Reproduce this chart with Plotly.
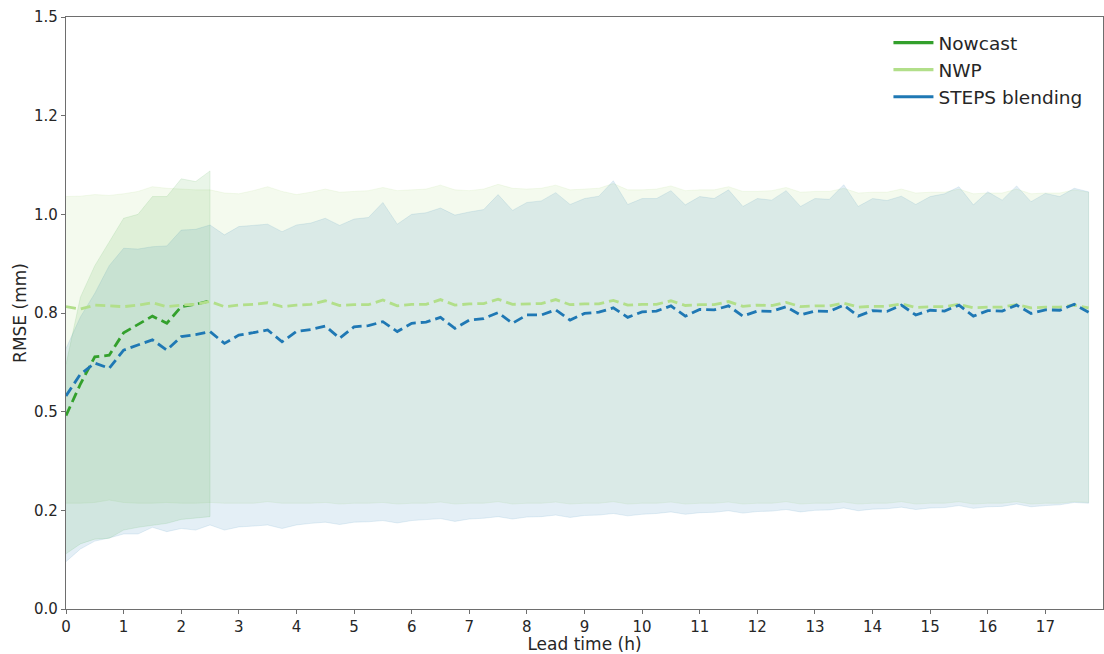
import numpy as np
import plotly.graph_objects as go

# Lead times (hours), 15-minute steps
lead_time_h = np.arange(72) * 0.25
nowcast_time_h = lead_time_h[:11]

# Mean RMSE (mm)
nowcast_mean = [0.490, 0.570, 0.639, 0.643, 0.700, 0.722, 0.742, 0.724, 0.766, 0.772, 0.781]

nwp_mean = [
    0.766, 0.760, 0.770, 0.768,
    0.766, 0.770, 0.776, 0.766,
    0.770, 0.772, 0.779, 0.766,
    0.770, 0.772, 0.776, 0.766,
    0.770, 0.772, 0.781, 0.769,
    0.771, 0.771, 0.783, 0.768,
    0.772, 0.772, 0.784, 0.770,
    0.773, 0.774, 0.785, 0.772,
    0.773, 0.774, 0.784, 0.771,
    0.773, 0.773, 0.782, 0.770,
    0.772, 0.772, 0.781, 0.769,
    0.771, 0.771, 0.779, 0.767,
    0.770, 0.769, 0.777, 0.766,
    0.768, 0.768, 0.775, 0.765,
    0.767, 0.767, 0.773, 0.764,
    0.766, 0.766, 0.772, 0.763,
    0.765, 0.765, 0.771, 0.763,
    0.765, 0.765, 0.770, 0.763,
]

steps_mean = [
    0.540, 0.595, 0.623, 0.610,
    0.656, 0.668, 0.682, 0.656,
    0.690, 0.695, 0.703, 0.673,
    0.694, 0.700, 0.707, 0.677,
    0.703, 0.708, 0.717, 0.686,
    0.715, 0.718, 0.728, 0.703,
    0.724, 0.727, 0.739, 0.711,
    0.732, 0.736, 0.751, 0.724,
    0.745, 0.745, 0.758, 0.732,
    0.749, 0.752, 0.763, 0.739,
    0.753, 0.755, 0.768, 0.742,
    0.759, 0.758, 0.768, 0.742,
    0.755, 0.754, 0.766, 0.745,
    0.755, 0.754, 0.770, 0.742,
    0.756, 0.754, 0.770, 0.745,
    0.757, 0.755, 0.770, 0.742,
    0.756, 0.755, 0.770, 0.749,
    0.758, 0.757, 0.772, 0.752,
]

# Spread bands (upper / lower)
nowcast_upper = [0.620, 0.790, 0.870, 0.930, 0.990, 1.000, 1.045, 1.045, 1.090, 1.083, 1.110]
nowcast_lower = [0.140, 0.165, 0.177, 0.179, 0.200, 0.207, 0.212, 0.217, 0.227, 0.230, 0.234]

nwp_upper = [
    1.045, 1.046, 1.050, 1.048,
    1.052, 1.058, 1.070, 1.066,
    1.064, 1.062, 1.062, 1.054,
    1.052, 1.060, 1.070, 1.058,
    1.050, 1.056, 1.064, 1.056,
    1.058, 1.060, 1.068, 1.060,
    1.062, 1.064, 1.074, 1.062,
    1.060, 1.064, 1.076, 1.066,
    1.064, 1.066, 1.074, 1.062,
    1.064, 1.066, 1.078, 1.062,
    1.062, 1.064, 1.072, 1.060,
    1.062, 1.062, 1.070, 1.058,
    1.058, 1.060, 1.068, 1.056,
    1.058, 1.058, 1.066, 1.054,
    1.056, 1.056, 1.064, 1.054,
    1.056, 1.056, 1.064, 1.052,
    1.054, 1.054, 1.064, 1.052,
    1.054, 1.054, 1.062, 1.056,
]
nwp_lower = [
    0.268, 0.268, 0.270, 0.276,
    0.270, 0.268, 0.268, 0.270,
    0.268, 0.268, 0.270, 0.268,
    0.268, 0.268, 0.272, 0.268,
    0.268, 0.268, 0.270, 0.266,
    0.268, 0.268, 0.270, 0.266,
    0.268, 0.268, 0.271, 0.266,
    0.268, 0.268, 0.272, 0.266,
    0.268, 0.268, 0.271, 0.266,
    0.268, 0.268, 0.272, 0.266,
    0.268, 0.268, 0.271, 0.266,
    0.268, 0.268, 0.271, 0.266,
    0.268, 0.268, 0.272, 0.266,
    0.268, 0.268, 0.271, 0.266,
    0.268, 0.268, 0.272, 0.266,
    0.268, 0.268, 0.272, 0.266,
    0.268, 0.268, 0.272, 0.266,
    0.268, 0.268, 0.272, 0.270,
]

steps_upper = [
    0.660, 0.740, 0.800, 0.870,
    0.914, 0.912, 0.918, 0.920,
    0.960, 0.962, 0.973, 0.948,
    0.969, 0.972, 0.975, 0.956,
    0.973, 0.978, 0.990, 0.972,
    0.988, 0.992, 1.030, 0.975,
    1.000, 1.004, 1.016, 0.998,
    1.006, 1.012, 1.050, 1.010,
    1.030, 1.034, 1.055, 1.025,
    1.040, 1.046, 1.085, 1.025,
    1.040, 1.040, 1.060, 1.024,
    1.045, 1.040, 1.062, 1.020,
    1.040, 1.036, 1.060, 1.020,
    1.040, 1.038, 1.075, 1.020,
    1.040, 1.035, 1.046, 1.025,
    1.045, 1.052, 1.070, 1.024,
    1.057, 1.036, 1.072, 1.032,
    1.053, 1.045, 1.066, 1.057,
]
steps_lower = [
    0.120, 0.152, 0.172, 0.180,
    0.190, 0.190, 0.207, 0.196,
    0.204, 0.200, 0.213, 0.200,
    0.208, 0.210, 0.213, 0.204,
    0.213, 0.217, 0.220, 0.214,
    0.220, 0.221, 0.224, 0.218,
    0.224, 0.226, 0.229, 0.222,
    0.228, 0.230, 0.234, 0.228,
    0.233, 0.234, 0.238, 0.232,
    0.237, 0.238, 0.242, 0.236,
    0.240, 0.242, 0.246, 0.240,
    0.244, 0.245, 0.249, 0.243,
    0.247, 0.248, 0.252, 0.246,
    0.250, 0.251, 0.256, 0.249,
    0.253, 0.254, 0.258, 0.252,
    0.256, 0.257, 0.262, 0.255,
    0.259, 0.260, 0.266, 0.259,
    0.262, 0.264, 0.270, 0.268,
]

x_ticks = list(range(0, 18))
y_tick_vals = [0.0, 0.25, 0.5, 0.75, 1.0, 1.25, 1.5]
y_tick_text = ["0.0", "0.2", "0.5", "0.8", "1.0", "1.2", "1.5"]

series = ["Nowcast", "NWP", "STEPS blending"]
colors = {"Nowcast": "#33a02c", "NWP": "#b2df8a", "STEPS blending": "#1f78b4"}


def rgba(hex_color, alpha):
    h = hex_color.lstrip("#")
    r, g, b = (int(h[i:i + 2], 16) for i in (0, 2, 4))
    return f"rgba({r},{g},{b},{alpha})"


def band(x, upper, lower, color, alpha):
    x = list(x)
    return go.Scatter(
        x=x + x[::-1],
        y=list(upper) + list(lower)[::-1],
        fill="toself",
        fillcolor=rgba(color, alpha),
        line=dict(color=rgba(color, alpha * 1.2), width=0.8),
        mode="lines",
        hoverinfo="skip",
        showlegend=False,
    )


fig = go.Figure()

# Spread bands
fig.add_trace(band(lead_time_h, nwp_upper, nwp_lower, colors["NWP"], 0.15))
fig.add_trace(band(lead_time_h, steps_upper, steps_lower, colors["STEPS blending"], 0.12))
fig.add_trace(band(nowcast_time_h, nowcast_upper, nowcast_lower, colors["Nowcast"], 0.11))

# Mean curves (dashed)
dash = "10px,5px"
fig.add_trace(go.Scatter(x=nowcast_time_h, y=nowcast_mean, mode="lines",
                         line=dict(color=colors["Nowcast"], width=2.8, dash=dash),
                         showlegend=False))
fig.add_trace(go.Scatter(x=lead_time_h, y=nwp_mean, mode="lines",
                         line=dict(color=colors["NWP"], width=2.8, dash=dash),
                         showlegend=False))
fig.add_trace(go.Scatter(x=lead_time_h, y=steps_mean, mode="lines",
                         line=dict(color=colors["STEPS blending"], width=2.8, dash=dash),
                         showlegend=False))

# Legend keys drawn as solid lines
for name in series:
    fig.add_trace(go.Scatter(x=[None], y=[None], mode="lines", name=name,
                             line=dict(color=colors[name], width=3.2)))

axis_common = dict(
    showline=True, mirror=True, linecolor="#6e6e6e", linewidth=1.2,
    ticks="outside", ticklen=4, tickcolor="#6e6e6e", tickwidth=1,
    showgrid=False, zeroline=False,
    tickfont=dict(family="DejaVu Sans", size=15, color="#262626"),
    title_font=dict(family="DejaVu Sans", size=17, color="#262626"),
)

fig.update_xaxes(range=[0, 18], tickmode="array", tickvals=x_ticks,
                 title_text="Lead time (h)", title_standoff=2, **axis_common)
fig.update_yaxes(range=[0, 1.5], tickmode="array", tickvals=y_tick_vals,
                 ticktext=y_tick_text, title_text="RMSE (mm)", title_standoff=3,
                 **axis_common)

fig.update_layout(
    width=1104, height=654,
    margin=dict(l=66, r=1, t=17, b=45),
    plot_bgcolor="white", paper_bgcolor="white",
    font=dict(family="DejaVu Sans", color="#262626"),
    legend=dict(x=0.985, xanchor="right", y=0.988, yanchor="top",
                bgcolor="rgba(0,0,0,0)", font=dict(size=18.5, color="#262626"),
                itemwidth=40),
)

fig.write_html("out.html")
